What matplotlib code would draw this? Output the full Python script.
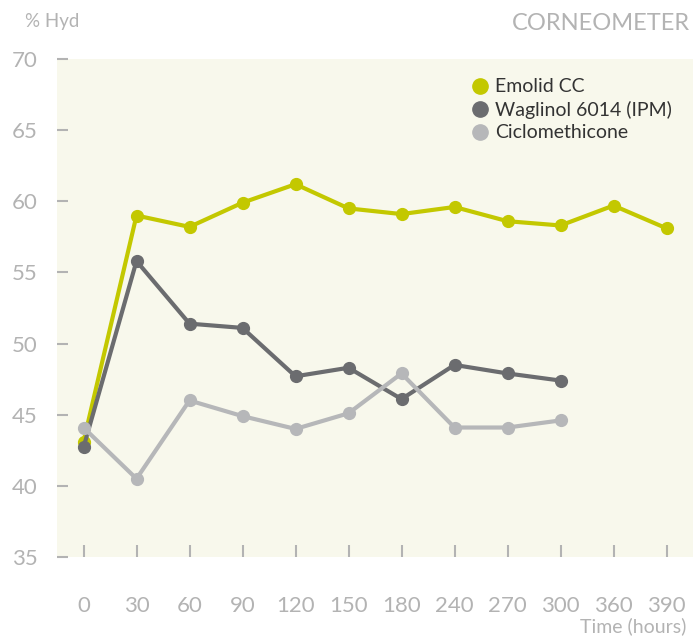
import numpy as np
import matplotlib
matplotlib.use("Agg")
import matplotlib.pyplot as plt
from matplotlib.lines import Line2D

plt.rcParams["font.family"] = ["Lato", "DejaVu Sans"]

hours = ["0", "30", "60", "90", "120", "150", "180", "240", "270", "300", "360", "390"]
emolid = [43.1, 59.0, 58.2, 59.9, 61.2, 59.5, 59.1, 59.6, 58.6, 58.3, 59.7, 58.1]
waglinol = [42.7, 55.8, 51.4, 51.1, 47.7, 48.3, 46.1, 48.5, 47.9, 47.4]
ciclo = [44.1, 40.5, 46.0, 44.9, 44.0, 45.1, 47.9, 44.1, 44.1, 44.6]

series = [
    ("Emolid CC", emolid, "#c3c800"),
    ("Waglinol 6014 (IPM)", waglinol, "#6b6c6f"),
    ("Ciclomethicone", ciclo, "#b6b7b9"),
]

GRAY = "#b3b3b3"

fig = plt.figure(figsize=(6.96, 6.36), dpi=100)
ax = fig.add_axes([57 / 696, 79 / 636, 636 / 696, 498 / 636])
ax.set_facecolor("#f8f8ec")

for name, vals, col in series:
    x = np.arange(len(vals))
    ax.plot(x, vals, color=col, lw=3, marker="o", ms=8.5,
            solid_capstyle="round", label=name)

ax.set_xlim(-0.5, 11.5)
ax.set_ylim(35, 70)
ax.set_xticks(np.arange(len(hours)))
ax.set_xticklabels(hours)
ax.set_yticks(np.arange(35, 71, 5))

for s in ax.spines.values():
    s.set_visible(False)

ax.tick_params(axis="both", direction="in", colors=GRAY, labelcolor=GRAY,
               labelsize=16, width=1.5)
ax.tick_params(axis="x", length=9, pad=28)
ax.tick_params(axis="y", length=8, pad=14)

handles = [Line2D([], [], ls="none", marker="o", ms=11, color=c) for _, _, c in series]
leg = ax.legend(handles, [n for n, _, _ in series], loc="upper left",
                bbox_to_anchor=(0.62, 0.996), frameon=False, fontsize=14,
                handletextpad=0.15, labelspacing=0.28, handlelength=1.2)
for t in leg.get_texts():
    t.set_color("#333333")

fig.text(25 / 696, 1 - 22 / 636, "% Hyd", color=GRAY, fontsize=13.5, va="center")
fig.text(690 / 696, 1 - 24 / 636, "CORNEOMETER", color=GRAY, fontsize=17,
         ha="right", va="center")
fig.text(686 / 696, 1 - 626 / 636, "Time (hours)", color=GRAY, fontsize=14,
         ha="right", va="center")

fig.savefig("out.png", dpi=100)
